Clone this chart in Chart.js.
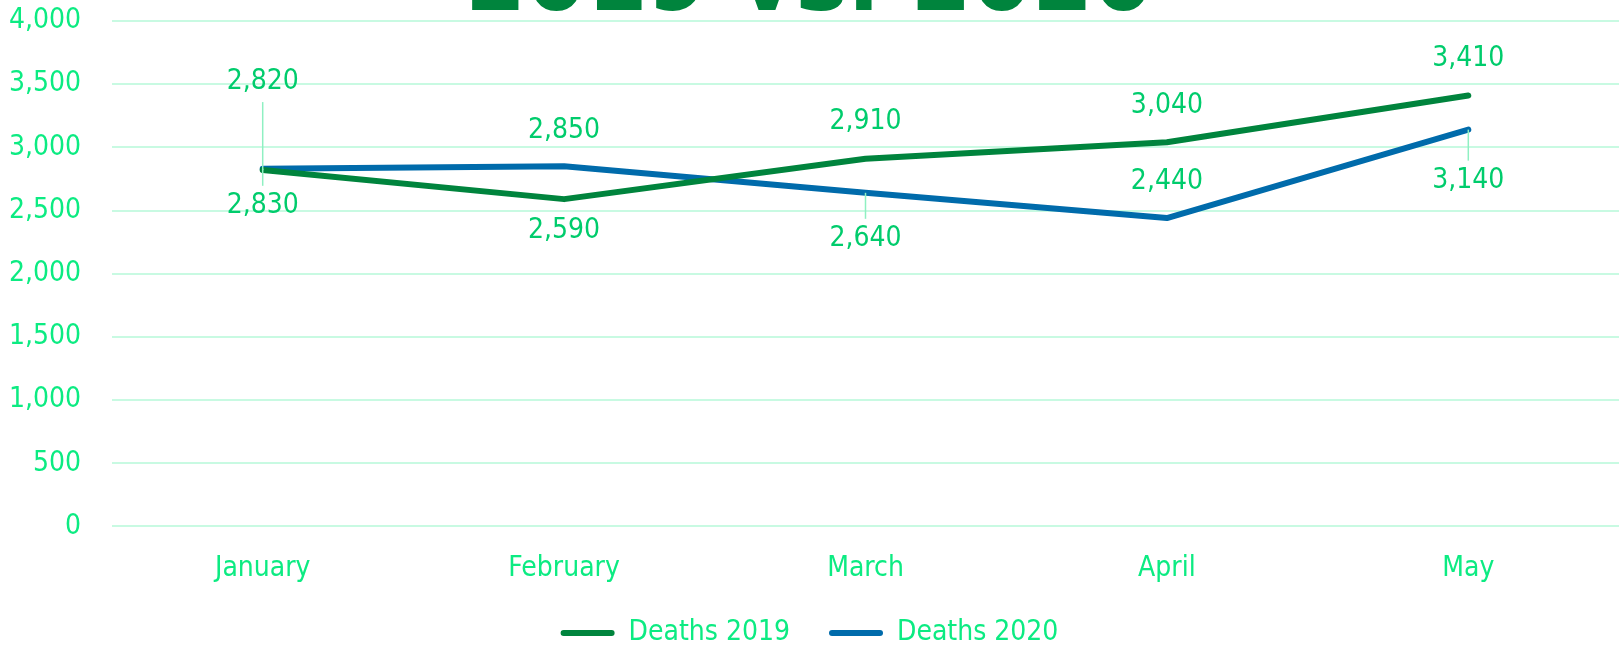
<!DOCTYPE html>
<html>
<head>
<meta charset="utf-8">
<script src="https://cdn.jsdelivr.net/npm/chart.js@4/dist/chart.umd.min.js"></script>
<style>
  html, body { margin: 0; padding: 0; background: #ffffff; overflow: hidden; }
  #wrap { position: absolute; left: 0; top: -51px; width: 1619px; height: 708px; }
</style>
</head>
<body>
<div id="wrap"><canvas id="c"></canvas></div>
<script>
const titleText = '2019 vs. 2020';
const categories = ['January', 'February', 'March', 'April', 'May'];
const seriesNames = ['Deaths 2019', 'Deaths 2020'];
const deaths2019 = [2820, 2590, 2910, 3040, 3410];
const deaths2020 = [2830, 2850, 2640, 2440, 3140];
const yTicks = { min: 0, max: 4000, step: 500 };

// label placement (pixels relative to point) — style only
const labelDy = [
  [-88, 32, -37, -37, -37],
  [37, -36, 46, -36, 51]
];
const leader = [
  [true, false, false, false, false],
  [true, false, true, false, true]
];

const FONT = '"Liberation Sans Narrow", "DejaVu Sans Condensed", sans-serif';
const AXIS_COLOR = '#0ceb82';
const LABEL_COLOR = '#00cc6c';
const GRID_COLOR = '#c8fae2';

const labelPlugin = {
  id: 'pointLabels',
  afterDatasetsDraw(chart) {
    const ctx = chart.ctx;
    ctx.save();
    chart.data.datasets.forEach((ds, di) => {
      const meta = chart.getDatasetMeta(di);
      meta.data.forEach((pt, i) => {
        const dy = labelDy[di][i];
        const x = pt.x, y = pt.y;
        if (leader[di][i]) {
          ctx.strokeStyle = '#8ff0c2';
          ctx.lineWidth = 1.5;
          ctx.beginPath();
          ctx.moveTo(x, y);
          ctx.lineTo(x, y + dy - Math.sign(dy) * 20);
          ctx.stroke();
        }
        ctx.fillStyle = LABEL_COLOR;
        ctx.font = '28px ' + FONT;
        ctx.textAlign = 'center';
        ctx.textBaseline = 'middle';
        ctx.fillText(ds.data[i].toLocaleString('en-US'), x, y + dy);
      });
    });
    ctx.restore();
  }
};

new Chart(document.getElementById('c'), {
  type: 'line',
  data: {
    labels: categories,
    datasets: [
      {
        label: seriesNames[0], data: deaths2019,
        borderColor: '#00843d', backgroundColor: '#00843d',
        borderWidth: 6, pointRadius: 0, tension: 0,
        borderCapStyle: 'round', borderJoinStyle: 'round'
      },
      {
        label: seriesNames[1], data: deaths2020,
        borderColor: '#006bab', backgroundColor: '#006bab',
        borderWidth: 6, pointRadius: 0, tension: 0,
        borderCapStyle: 'round', borderJoinStyle: 'round'
      }
    ]
  },
  options: {
    responsive: true,
    maintainAspectRatio: false,
    animation: false,
    layout: { padding: { left: 0, right: 0, top: 0, bottom: 0 } },
    plugins: {
      title: {
        display: true, text: titleText, color: '#00843d',
        font: { family: FONT, size: 97, weight: 'bold', lineHeight: 0.742 },
        padding: { top: 0, bottom: 0 }
      },
      legend: {
        position: 'bottom',
        labels: {
          color: AXIS_COLOR,
          font: { family: FONT, size: 28 },
          boxWidth: 54, boxHeight: 6,
          useBorderRadius: true, borderRadius: 3,
          padding: 7,
          generateLabels(chart) {
            const items = Chart.defaults.plugins.legend.labels.generateLabels(chart);
            items.forEach((it, i) => {
              if (i < items.length - 1) it.text = it.text + '    ';
              it.lineWidth = 0;
            });
            return items;
          }
        }
      },
      tooltip: { enabled: false }
    },
    scales: {
      x: {
        offset: true,
        grid: { display: false, drawTicks: false },
        border: { display: false },
        ticks: { color: AXIS_COLOR, font: { family: FONT, size: 28 }, padding: 26 }
      },
      y: {
        min: yTicks.min, max: yTicks.max,
        grid: { color: GRID_COLOR, lineWidth: 2, drawTicks: false },
        border: { display: false },
        afterFit(scale) { scale.width = 112; },
        ticks: {
          stepSize: yTicks.step, color: AXIS_COLOR,
          font: { family: FONT, size: 28 }, padding: 31,
          callback: v => v.toLocaleString('en-US')
        }
      }
    }
  },
  plugins: [labelPlugin]
});
</script>
</body>
</html>
